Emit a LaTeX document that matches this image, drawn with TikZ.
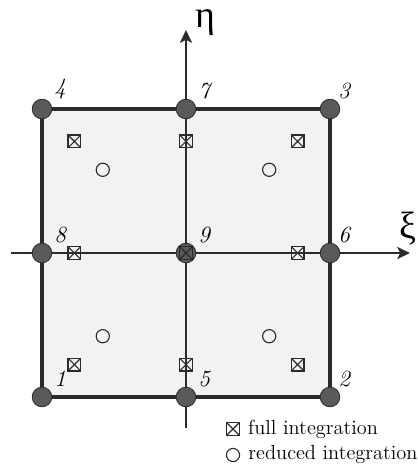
\documentclass[tikz,border=0pt]{standalone}
\usepackage{fontspec}
\newfontfamily\greekserif{Liberation Serif}
\usepackage{tikz}
\usetikzlibrary{arrows.meta, positioning, backgrounds}
\definecolor{elemfill}{HTML}{F1F3F2}
\definecolor{knotgray}{HTML}{5A5A5A}
\definecolor{linegray}{HTML}{2B2B2B}
\begin{document}
\begin{tikzpicture}[
  knot/.style={circle, draw=linegray, fill=knotgray, line width=0.6pt,
               minimum size=0.49cm, inner sep=0pt},
  num/.style={anchor=south west, inner sep=0pt,
              font=\fontsize{16.5}{18}\selectfont\itshape},
  fullpt/.style={rectangle, draw=linegray, line width=0.8pt, minimum size=0.32cm,
                 inner sep=0pt,
                 path picture={\draw[linegray, line width=0.8pt]
                   (path picture bounding box.south west) -- (path picture bounding box.north east)
                   (path picture bounding box.north west) -- (path picture bounding box.south east);}},
  redpt/.style={circle, draw=linegray, line width=0.8pt, minimum size=0.33cm, inner sep=0pt},
  edge/.style={draw=linegray, line width=2.3pt},
  axis/.style={draw=linegray, line width=1.8pt},
  arrow/.style={axis, -{Stealth[length=9pt, width=8.5pt, inset=2pt]}},
  legtxt/.style={anchor=west, inner sep=0pt, font=\fontsize{14.5}{16}\selectfont},
  axlab/.style={inner sep=0pt, font=\fontsize{27}{30}\greekserif}
]
\useasboundingbox (-4.65,-5.325) rectangle (5.8,6.325);

%% ---- NODES (corners, mid-sides, centre) ----
\node[knot] at (-3.6,-3.6) (n1) {};
\node[knot] at ( 3.6,-3.6) (n2) {};
\node[knot] at ( 3.6, 3.6) (n3) {};
\node[knot] at (-3.6, 3.6) (n4) {};
\node[knot] at ( 0,  -3.6) (n5) {};
\node[knot] at ( 3.6, 0)   (n6) {};
\node[knot] at ( 0,   3.6) (n7) {};
\node[knot] at (-3.6, 0)   (n8) {};
\node[knot] at ( 0,   0)   (n9) {};

%% ---- Axis ends ----
\coordinate (xil)  at (-4.375,0);
\coordinate (xir)  at (5.6,0);
\coordinate (etab) at (0,-4.375);
\coordinate (etat) at (0,5.575);

%% ---- Element area and axes (behind the nodes) ----
\begin{scope}[on background layer]
  \fill[elemfill] (n1.center) rectangle (n3.center);
  \draw[arrow] (xil)  -- (xir);
  \draw[arrow] (etab) -- (etat);
\end{scope}

%% ---- Element edges ----
\draw[edge] (n1) -- (n5) -- (n2) -- (n6) -- (n3) -- (n7) -- (n4) -- (n8) -- (n1);

%% ---- Node numbers ----
\node[num] at (-3.3,-3.35) (t1) {1};
\node[num] at ( 3.8,-3.35) (t2) {2};
\node[num] at ( 3.8, 3.85) (t3) {3};
\node[num] at (-3.3, 3.85) (t4) {4};
\node[num] at ( 0.3,-3.35) (t5) {5};
\node[num] at ( 3.8, 0.25) (t6) {6};
\node[num] at ( 0.3, 3.85) (t7) {7};
\node[num] at (-3.3, 0.25) (t8) {8};
\node[num] at ( 0.3, 0.25) (t9) {9};

%% ---- Full integration points (3x3) ----
\node[fullpt] at (-2.79,-2.79) (f1) {};
\node[fullpt] at ( 0,   -2.79) (f2) {};
\node[fullpt] at ( 2.79,-2.79) (f3) {};
\node[fullpt] at (-2.79, 0)    (f4) {};
\node[fullpt] at ( 0,    0)    (f5) {};
\node[fullpt] at ( 2.79, 0)    (f6) {};
\node[fullpt] at (-2.79, 2.79) (f7) {};
\node[fullpt] at ( 0,    2.79) (f8) {};
\node[fullpt] at ( 2.79, 2.79) (f9) {};

%% ---- Reduced integration points (2x2) ----
\node[redpt] at (-2.08,-2.08) (r1) {};
\node[redpt] at ( 2.08,-2.08) (r2) {};
\node[redpt] at ( 2.08, 2.08) (r3) {};
\node[redpt] at (-2.08, 2.08) (r4) {};

%% ---- Axis labels ----
\node[axlab] at (5.54,0.62)  (xilab)  {ξ};
\node[axlab] at (0.49,5.75) (etalab) {η};

%% ---- Legend ----
\node[fullpt] at (1.175,-4.4)  (lf) {};
\node[redpt]  at (1.175,-5.05) (lr) {};
\node[legtxt, right=0.2cm of lf] (lftxt) {full integration};
\node[legtxt, right=0.2cm of lr] (lrtxt) {reduced integration};
\end{tikzpicture}
\end{document}
